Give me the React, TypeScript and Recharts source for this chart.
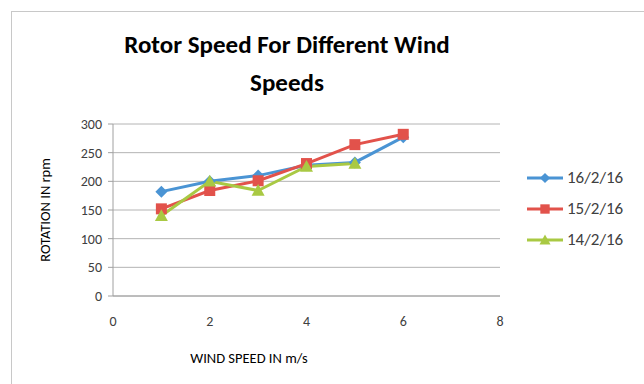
import React from "react";
import { LineChart, Line, CartesianGrid, XAxis, YAxis } from "recharts";

const windSpeeds = [1, 2, 3, 4, 5, 6];
const feb16 = [182, 200, 210, 228, 233, 277];
const feb15 = [152, 184, 201, 231, 264, 282];
const feb14 = [140, 200, 184, 226, 231, null];
const xTicks = [0, 2, 4, 6, 8];
const yTicks = [0, 50, 100, 150, 200, 250, 300];

const SERIES = [
  { key: "d16", name: "16/2/16", color: "#4A94D4", shape: "diamond" },
  { key: "d15", name: "15/2/16", color: "#E2524B", shape: "square" },
  { key: "d14", name: "14/2/16", color: "#A9C943", shape: "triangle" },
];

const data = windSpeeds.map((w, i) => ({
  wind: w,
  d16: feb16[i],
  d15: feb15[i],
  d14: feb14[i],
}));

const FONT = "Carlito, 'Open Sans', 'Liberation Sans', sans-serif";

function Marker({ cx, cy, shape, color, size = 1 }: any) {
  if (cx == null || cy == null) return null;
  if (shape === "diamond") {
    const r = 6 * size;
    return (
      <polygon
        points={`${cx},${cy - r} ${cx + r},${cy} ${cx},${cy + r} ${cx - r},${cy}`}
        fill={color}
      />
    );
  }
  if (shape === "square") {
    const r = 5.5 * size;
    return <rect x={cx - r} y={cy - r} width={r * 2} height={r * 2} fill={color} />;
  }
  const r = 6.5 * size;
  return (
    <polygon
      points={`${cx},${cy - r} ${cx + r},${cy + r * 0.8} ${cx - r},${cy + r * 0.8}`}
      fill={color}
    />
  );
}

function LegendBox() {
  return (
    <div style={{ fontFamily: FONT, fontSize: 17, color: "#404040" }}>
      {SERIES.map((s) => (
        <div key={s.key} style={{ display: "flex", alignItems: "center", height: 31 }}>
          <svg width={38} height={16}>
            <line x1={1} y1={8} x2={37} y2={8} stroke={s.color} strokeWidth={3} />
            <Marker cx={19} cy={8} shape={s.shape} color={s.color} size={0.85} />
          </svg>
          <span style={{ marginLeft: 3 }}>{s.name}</span>
        </div>
      ))}
    </div>
  );
}

export default function App() {
  return (
    <div
      style={{
        position: "absolute",
        left: 0,
        top: 0,
        width: 644,
        height: 384,
        background: "#fff",
        overflow: "hidden",
        fontFamily: FONT,
      }}
    >
      <div
        style={{
          position: "absolute",
          left: 11,
          top: 11,
          width: 640,
          height: 380,
          border: "1px solid #c8c8c8",
        }}
      />
      <div
        style={{
          position: "absolute",
          left: 60,
          width: 454,
          top: 26,
          textAlign: "center",
          fontSize: 25,
          fontWeight: "bold",
          lineHeight: "38px",
          color: "#000",
        }}
      >
        Rotor Speed For Different Wind
        <br />
        Speeds
      </div>
      <LineChart
        width={644}
        height={384}
        data={data}
        margin={{ top: 124, right: 144, left: 53, bottom: 58 }}
        style={{ position: "absolute", left: 0, top: 0 }}
      >
        <CartesianGrid vertical={false} stroke="#b4b4b4" strokeWidth={1} />
        <XAxis
          dataKey="wind"
          type="number"
          domain={[0, 8]}
          ticks={xTicks}
          axisLine={{ stroke: "#a0a0a0" }}
          tickLine={false}
          tick={{ fill: "#404040", fontSize: 14, fontFamily: FONT }}
          tickMargin={14}
          height={30}
        />
        <YAxis
          type="number"
          domain={[0, 300]}
          ticks={yTicks}
          axisLine={{ stroke: "#a0a0a0" }}
          tickLine={{ stroke: "#a0a0a0" }}
          tickSize={5}
          tick={{ fill: "#404040", fontSize: 14, fontFamily: FONT }}
          tickMargin={6}
          width={60}
        />
        {SERIES.map((s) => (
          <Line
            key={s.key}
            type="linear"
            dataKey={s.key}
            name={s.name}
            stroke={s.color}
            strokeWidth={3}
            dot={(p: any) => (
              <Marker key={`${s.key}-${p.index}`} cx={p.cx} cy={p.cy} shape={s.shape} color={s.color} />
            )}
            activeDot={false}
            connectNulls={false}
            isAnimationActive={false}
          />
        ))}
      </LineChart>
      <div style={{ position: "absolute", left: 526, top: 162, width: 118 }}>
        <LegendBox />
      </div>
      <div
        style={{
          position: "absolute",
          left: 149,
          width: 200,
          top: 349,
          textAlign: "center",
          fontSize: 14.5,
          color: "#000",
        }}
      >
        WIND SPEED IN m/s
      </div>
      <div
        style={{
          position: "absolute",
          left: 45 - 80,
          top: 210 - 9,
          width: 160,
          height: 18,
          textAlign: "center",
          fontSize: 14.5,
          color: "#000",
          transform: "rotate(-90deg)",
        }}
      >
        ROTATION IN rpm
      </div>
    </div>
  );
}
